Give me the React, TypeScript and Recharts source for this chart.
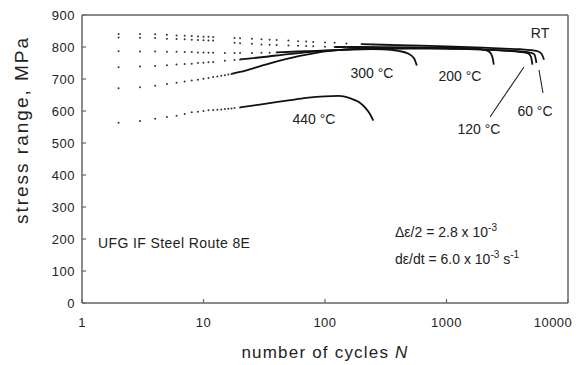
import React from 'react';
import { ComposedChart, Line, XAxis, YAxis } from 'recharts';

// x: number of cycles N (log), y: stress range (MPa)
const xTicks = [1, 10, 100, 1000, 10000];
const yTicks = [0, 100, 200, 300, 400, 500, 600, 700, 800, 900];

// ---- RT ----
const rtDots: number[][] = [
  [2, 841], [3, 841], [4, 840], [5, 838], [6, 836], [7, 835], [8, 834], [9, 833], [10, 832], [11, 832], [12, 831],
  [18, 828], [20, 827], [25, 826], [30, 824], [35, 823], [40, 822], [50, 820], [60, 818], [70, 817], [80, 816],
  [100, 814], [120, 813], [150, 811], [200, 809], [250, 808],
];
const rtLine: number[][] = [
  [200, 809], [300, 807], [500, 805], [1000, 802], [2000, 798], [3000, 795], [4000, 793], [5000, 790],
  [5700, 786], [6100, 777], [6350, 760],
];

// ---- 60 °C ----
const t60Dots: number[][] = [
  [2, 830], [3, 829], [4, 828], [5, 826], [6, 825], [7, 824], [8, 823], [9, 822], [10, 821], [11, 820], [12, 820],
  [18, 813], [20, 812], [25, 810], [30, 808], [35, 807], [40, 806], [50, 805], [60, 804], [70, 803], [80, 802],
  [100, 801], [120, 800], [150, 800],
];
const t60Line: number[][] = [
  [120, 800], [200, 800], [500, 798], [1000, 795], [2000, 792], [3000, 789], [4000, 786], [5000, 782], [5300, 776],
  [5500, 750],
];

// ---- 120 °C ----
const t120Dots: number[][] = [
  [2, 787], [3, 786], [4, 786], [5, 785], [6, 785], [7, 784], [8, 784], [9, 783], [10, 783], [11, 782], [12, 782],
  [15, 781], [18, 781], [20, 781], [25, 781], [30, 782], [35, 782], [40, 783],
];
const t120Line: number[][] = [
  [40, 783], [60, 786], [100, 789], [200, 793], [500, 795], [1000, 795], [2000, 792], [3000, 789], [4000, 785],
  [4700, 780], [4950, 770], [5100, 745],
];

// ---- 200 °C ----
const t200Dots: number[][] = [
  [2, 737], [3, 739], [4, 741], [5, 743], [6, 745], [7, 747], [8, 748], [9, 750], [10, 751], [11, 752], [12, 753],
  [15, 757], [18, 759], [20, 761],
];
const t200Line: number[][] = [
  [20, 761], [30, 768], [50, 778], [100, 788], [200, 795], [500, 799], [1000, 798], [1500, 796], [2000, 792],
  [2250, 785], [2400, 765], [2450, 745],
];

// ---- 300 °C ----
const t300Dots: number[][] = [
  [2, 671], [3, 674], [4, 679], [5, 684], [6, 688], [7, 692], [8, 695], [9, 698], [10, 701], [11, 703], [12, 706],
  [13, 708], [14, 710], [15, 712], [16, 714], [17, 716], [18, 718],
];
const t300Line: number[][] = [
  [17, 716], [20, 722], [33, 746], [62, 772], [110, 788], [200, 794], [300, 793], [400, 788], [480, 780], [540, 765],
  [570, 742],
];

// ---- 440 °C ----
const t440Dots: number[][] = [
  [2, 563], [3, 569], [4, 576], [5, 581], [6, 585], [7, 591], [8, 596], [9, 598], [10, 600], [11, 602], [12, 603],
  [13, 604], [14, 605], [15, 606], [16, 607], [17, 608], [18, 609], [20, 611],
];
const t440Line: number[][] = [
  [20, 611], [30, 621], [50, 633], [70, 641], [100, 646], [130, 647], [160, 640], [190, 628], [215, 610], [235, 590],
  [250, 570],
];

const series = [
  { name: 'RT', dots: rtDots, line: rtLine },
  { name: '60 °C', dots: t60Dots, line: t60Line },
  { name: '120 °C', dots: t120Dots, line: t120Line },
  { name: '200 °C', dots: t200Dots, line: t200Line },
  { name: '300 °C', dots: t300Dots, line: t300Line },
  { name: '440 °C', dots: t440Dots, line: t440Line },
];

const toPts = (arr: number[][]) => arr.map(([n, s]) => ({ n, s }));

const FONT = '"Liberation Sans", Arial, Helvetica, sans-serif';
const AXIS = '#666';
const INK = '#222';

const XTick = (props: any) => {
  const { x, y, payload } = props;
  const v = payload.value;
  const dx = v === 10000 ? -9 : 0;
  return (
    <text x={x + dx} y={y} dy="0.71em" textAnchor="middle" fontSize={13} fill={INK} fontFamily={FONT} letterSpacing={0.5}>
      {String(v)}
    </text>
  );
};

const YTick = (props: any) => {
  const { x, y, payload } = props;
  return (
    <text x={x} y={y} dy="0.355em" textAnchor="end" fontSize={13} fill={INK} fontFamily={FONT} letterSpacing={0.5}>
      {String(payload.value)}
    </text>
  );
};

export default function App() {
  const W = 582;
  const H = 365;
  return (
    <div style={{ position: 'absolute', left: 0, top: 0, width: W, height: H, background: '#fff' }}>
      <ComposedChart width={W} height={H} margin={{ top: 15, right: 14, left: 32, bottom: 32 }}>
        <XAxis
          dataKey="n"
          type="number"
          scale="log"
          domain={[1, 10000]}
          ticks={xTicks}
          allowDataOverflow
          height={30}
          tickSize={-4}
          tickMargin={19}
          axisLine={{ stroke: AXIS, strokeWidth: 1.5 }}
          tickLine={{ stroke: AXIS, strokeWidth: 1.2 }}
          tick={<XTick />}
        />
        <YAxis
          dataKey="s"
          type="number"
          domain={[0, 900]}
          ticks={yTicks}
          allowDataOverflow
          width={50}
          tickSize={-4}
          tickMargin={11}
          axisLine={{ stroke: AXIS, strokeWidth: 1.5 }}
          tickLine={{ stroke: AXIS, strokeWidth: 1.2 }}
          tick={<YTick />}
        />
        {series.map((s) => (
          <Line
            key={s.name + '-dots'}
            data={toPts(s.dots)}
            dataKey="s"
            stroke="none"
            dot={{ r: 1, fill: '#333', stroke: 'none' }}
            isAnimationActive={false}
            legendType="none"
          />
        ))}
        {series.map((s) => (
          <Line
            key={s.name + '-line'}
            data={toPts(s.line)}
            dataKey="s"
            type="monotone"
            stroke="#111"
            strokeWidth={1.8}
            dot={false}
            isAnimationActive={false}
            legendType="none"
          />
        ))}
      </ComposedChart>
      <svg
        width={W}
        height={H}
        style={{ position: 'absolute', left: 0, top: 0, pointerEvents: 'none' }}
        fontFamily={FONT}
      >
        <line x1={82} y1={15} x2={568} y2={15} stroke={AXIS} strokeWidth={1.5} />
        <line x1={568} y1={15} x2={568} y2={303} stroke={AXIS} strokeWidth={1.5} />
        {/* axis titles */}
        <text x={325} y={358} textAnchor="middle" fontSize={17} fill={INK} letterSpacing={1.2}>
          number of cycles <tspan fontStyle="italic">N</tspan>
        </text>
        <text
          x={0}
          y={0}
          transform="translate(28,130) rotate(-90)"
          textAnchor="middle"
          fontSize={19}
          fill={INK}
          letterSpacing={2}
        >
          stress range, MPa
        </text>
        {/* curve labels */}
        <text x={372} y={78} textAnchor="middle" fontSize={14} fill={INK}>300 °C</text>
        <text x={460} y={81} textAnchor="middle" fontSize={14} fill={INK}>200 °C</text>
        <text x={314} y={124} textAnchor="middle" fontSize={14} fill={INK}>440 °C</text>
        <text x={479} y={134} textAnchor="middle" fontSize={14} fill={INK}>120 °C</text>
        <text x={535} y={116} textAnchor="middle" fontSize={14} fill={INK}>60 °C</text>
        <text x={540} y={38} textAnchor="middle" fontSize={14} fill={INK}>RT</text>
        <line x1={490} y1={117} x2={524} y2={67} stroke="#222" strokeWidth={1.1} />
        <line x1={543} y1={93} x2={539} y2={70} stroke="#222" strokeWidth={1.1} />
        {/* notes */}
        <text x={98} y={248} fontSize={14} fill={INK} letterSpacing={0.4}>UFG IF Steel Route 8E</text>
        <text x={395} y={237} fontSize={14} fill={INK}>
          Δε/2 = 2.8 x 10<tspan fontSize={10} dy={-6}>-3</tspan>
        </text>
        <text x={395} y={264} fontSize={14} fill={INK}>
          dε/dt = 6.0 x 10<tspan fontSize={10} dy={-6}>-3</tspan>
          <tspan fontSize={14} dy={6}> s</tspan>
          <tspan fontSize={10} dy={-6}>-1</tspan>
        </text>
      </svg>
    </div>
  );
}
